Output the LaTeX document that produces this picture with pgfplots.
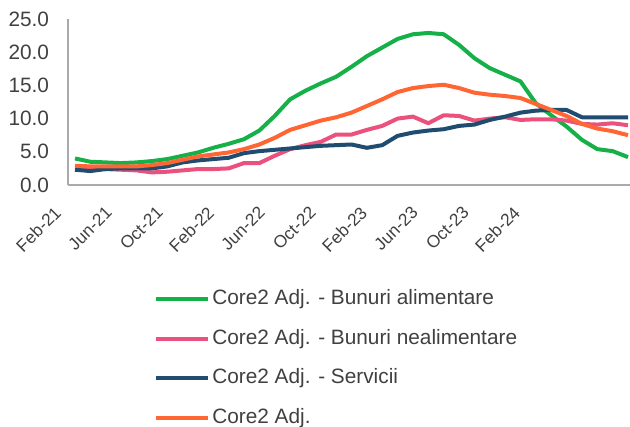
\documentclass[border=0pt]{standalone}
\usepackage{pgfplots}
\pgfplotsset{compat=1.18}
\usepackage{fontspec}
\setmainfont{Liberation Sans}
\definecolor{cgreen}{RGB}{22,176,72}
\definecolor{cpink}{RGB}{236,80,125}
\definecolor{cblue}{RGB}{32,76,112}
\definecolor{corange}{RGB}{255,102,51}
\definecolor{ctext}{RGB}{64,64,64}
\definecolor{caxis}{RGB}{170,170,170}
\begin{document}
\begin{tikzpicture}
\begin{axis}[
  scale only axis,
  width=421.5pt, height=124.5pt,
  xmin=-0.456, xmax=36.13,
  ymin=0, ymax=25,
  axis x line*=bottom, axis y line*=left,
  axis line style={draw=caxis, line width=1.3pt, -},
  major tick length=0pt,
  ytick={0,5,10,15,20,25},
  yticklabels={0.0,5.0,10.0,15.0,20.0,25.0},
  xtick={0,3.32,6.64,9.96,13.28,16.6,19.92,23.24,26.56,29.88},
  xticklabels={Feb-21,Jun-21,Oct-21,Feb-22,Jun-22,Oct-22,Feb-23,Jun-23,Oct-23,Feb-24},
  tick label style={text=ctext, inner sep=0pt},
  yticklabel style={font=\fontsize{15.6}{18}\selectfont, anchor=east, xshift=-14pt},
  xticklabel style={font=\fontsize{13}{15}\selectfont, xshift=-16.25pt, yshift=-15pt, rotate=45, anchor=north east},
  legend style={at={(axis description cs:0.146,-0.61)}, anchor=north west,
    draw=none, fill=none, font=\fontsize{15.6}{18}\selectfont, text=ctext,
    row sep=14.7pt,
    nodes={inner sep=0pt, text height=11.5pt, text depth=3.5pt},
    /tikz/every odd column/.append style={column sep=1.5pt}},
  legend cell align=left,
  legend image code/.code={\draw[#1, line width=3pt] (0pt,0pt) -- (39pt,0pt);},
  every axis plot/.append style={line width=3pt, line join=round, mark=none},
  clip=false,
]
\addplot[cgreen] coordinates {
(0,4.0)(1,3.5)(2,3.4)(3,3.3)(4,3.4)(5,3.6)(6,3.9)(7,4.4)(8,4.9)(9,5.6)(10,6.2)(11,6.9)(12,8.2)(13,10.4)(14,12.9)(15,14.2)(16,15.3)(17,16.3)(18,17.8)(19,19.4)(20,20.7)(21,22.0)(22,22.7)(23,22.9)(24,22.7)(25,21.1)(26,19.1)(27,17.6)(28,16.6)(29,15.6)(30,12.3)(31,10.5)(32,8.8)(33,6.8)(34,5.4)(35,5.1)(36,4.2)};
\addlegendentry{Core2 Adj. - Bunuri alimentare}
\addplot[cpink] coordinates {
(0,2.6)(1,2.5)(2,2.4)(3,2.3)(4,2.2)(5,1.9)(6,2.0)(7,2.2)(8,2.4)(9,2.4)(10,2.5)(11,3.3)(12,3.3)(13,4.4)(14,5.4)(15,6.0)(16,6.5)(17,7.6)(18,7.6)(19,8.3)(20,8.9)(21,10.0)(22,10.3)(23,9.3)(24,10.5)(25,10.4)(26,9.7)(27,10.0)(28,10.2)(29,9.8)(30,9.9)(31,9.9)(32,9.7)(33,9.2)(34,9.1)(35,9.3)(36,9.0)};
\addlegendentry{Core2 Adj. - Bunuri nealimentare}
\addplot[cblue] coordinates {
(0,2.3)(1,2.1)(2,2.4)(3,2.5)(4,2.5)(5,2.5)(6,2.8)(7,3.4)(8,3.7)(9,3.9)(10,4.1)(11,4.8)(12,5.1)(13,5.3)(14,5.5)(15,5.7)(16,5.9)(17,6.0)(18,6.1)(19,5.6)(20,6.0)(21,7.4)(22,7.9)(23,8.2)(24,8.4)(25,8.9)(26,9.1)(27,9.8)(28,10.3)(29,10.9)(30,11.2)(31,11.3)(32,11.3)(33,10.2)(34,10.2)(35,10.2)(36,10.2)};
\addlegendentry{Core2 Adj. - Servicii}
\addplot[corange] coordinates {
(0,2.9)(1,2.8)(2,2.8)(3,2.8)(4,2.8)(5,3.0)(6,3.3)(7,3.8)(8,4.3)(9,4.6)(10,4.9)(11,5.4)(12,6.1)(13,7.1)(14,8.3)(15,9.0)(16,9.7)(17,10.2)(18,10.9)(19,11.9)(20,12.9)(21,14.0)(22,14.6)(23,14.9)(24,15.1)(25,14.6)(26,13.9)(27,13.6)(28,13.4)(29,13.1)(30,12.2)(31,11.3)(32,10.4)(33,9.2)(34,8.5)(35,8.1)(36,7.5)};
\addlegendentry{Core2 Adj.}
\end{axis}
\pgfresetboundingbox
\path[use as bounding box] (-51pt,-181.5pt) rectangle (421.5pt,138.75pt);
\end{tikzpicture}
\end{document}
